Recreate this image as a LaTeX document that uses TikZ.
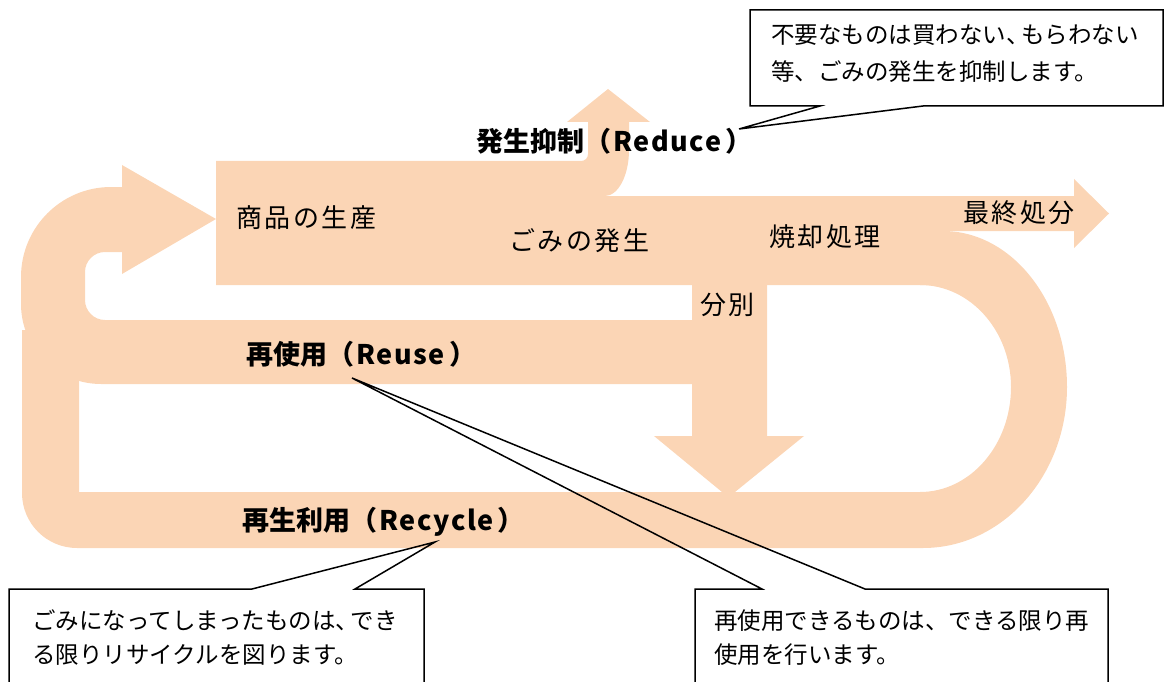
\documentclass[tikz,border=0pt]{standalone}
\usepackage{fontspec}
\setmainfont{Noto Sans CJK JP}
\newfontfamily\labfont[LetterSpace=10]{Noto Sans CJK JP}
\newfontfamily\latsp[LetterSpace=6]{Noto Sans CJK JP}
\definecolor{peach}{HTML}{FBD5B5}
\tikzset{
  band/.style={fill=peach, draw=none},
  lab/.style={inner sep=0pt, anchor=west, text height=22.9pt, text depth=3.1pt,
    font=\labfont\fontsize{26pt}{30pt}\selectfont},
  blab/.style={inner sep=0pt, anchor=west, text height=23.8pt, text depth=3.2pt,
    font=\fontsize{27pt}{31pt}\selectfont\bfseries},
  callout/.style={draw=black, line width=1.5pt, line join=miter},
  ctext/.style={inner sep=0pt, anchor=west, text height=20.7pt, text depth=2.8pt,
    font=\fontsize{23.5pt}{28pt}\selectfont}
}
\begin{document}
\begin{tikzpicture}[x=1pt,y=-1pt]
\useasboundingbox (0,0) rectangle (1165,682);
\clip (0,0) rectangle (1165,682);
% recycle loop with D turn
\fill[band] (22,330) -- (22,493) .. controls (22,523.4) and (46.6,548) .. (77,548)
  -- (923,548) .. controls (1002.5,548) and (1067,475.9) .. (1067,387)
  .. controls (1067,300.9) and (1011.4,231) .. (943,231) -- (920,231) -- (920,285)
  .. controls (970.2,285) and (1011,330.7) .. (1011,387)
  .. controls (1011,445) and (970.2,492) .. (920,492) -- (79,492) -- (79,330) -- cycle;
% reuse U-turn arrow into production
\fill[band] (692,384) -- (101,384) .. controls (56.8,384) and (21,348.2) .. (21,304)
  -- (21,277) .. controls (21,227.3) and (61.3,187) .. (111,187) -- (122,187)
  -- (122,165) -- (216,219) -- (122,274) -- (122,252) -- (105,252)
  .. controls (94,252) and (85,261) .. (85,272) -- (85,300)
  .. controls (85,311) and (94,320) .. (105,320) -- (692,320) -- cycle;
% main band with reduce arrow and final disposal arrow
\fill[band] (216,161) -- (581,161) .. controls (585,161) and (588,158) .. (588,154)
  -- (588,122) -- (567,122) -- (608,89) -- (650,122) -- (629,122) -- (629,150)
  .. controls (629,175.4) and (618.2,196) .. (605,196) -- (1074,196) -- (1074,179)
  -- (1109,213.5) -- (1074,248) -- (1074,231) -- (943,231) -- (943,285) -- (216,285) -- cycle;
% sorting arrow
\fill[band] (692,284) -- (767,284) -- (767,436) -- (804,436) -- (735,492) -- (722,492)
  -- (654,436) -- (692,436) -- cycle;

% labels
\node[lab] (prod) at (236,218) {商品の生産};
\node[lab] (gomi) at (509,241) {ごみの発生};
\node[lab] (shoka) at (769,237) {焼却処理};
\node[lab] (saishu) at (963,213) {最終処分};
\node[lab] (bunbetsu) at (700,305) {分別};
\node[blab] (reduce) at (476,141) {発生抑制（\hspace{2pt}{\latsp Reduce}\hspace{4pt}）};
\node[blab] (reuse) at (246,354) {再使用（\hspace{2pt}{\latsp Reuse}\hspace{4pt}）};
\node[blab] (recycle) at (242,520) {再生利用（\hspace{2pt}{\latsp Recycle}\hspace{4pt}）};

% callouts
\coordinate (tipA) at (739,129);
\coordinate (tipB) at (435,542);
\coordinate (tipC) at (352,378);
\draw[callout] (750,10) -- (1163,10) -- (1163,106) -- (923,106) -- (tipA) -- (820,106) -- (750,106) -- cycle;
\draw[callout] (9,700) -- (9,589) -- (252,589) -- (tipB) -- (355,589) -- (424,589) -- (424,700);
\draw[callout] (695,700) -- (695,589) -- (762,589) -- (tipC) -- (865,589) -- (1108,589) -- (1108,700);

\node[ctext] (ca1) at (771,35) {不要なものは買わない、\kern-0.35em もらわない};
\node[ctext] (ca2) at (771,72) {等、ごみの発生を抑制します。};
\node[ctext] (cb1) at (32,621) {ごみになってしまったものは、\kern-0.35em でき};
\node[ctext] (cb2) at (32,655) {る限りリサイクルを図ります。};
\node[ctext] (cc1) at (714,621) {再使用できるものは、できる限り再};
\node[ctext] (cc2) at (714,655) {使用を行います。};
\end{tikzpicture}
\end{document}
